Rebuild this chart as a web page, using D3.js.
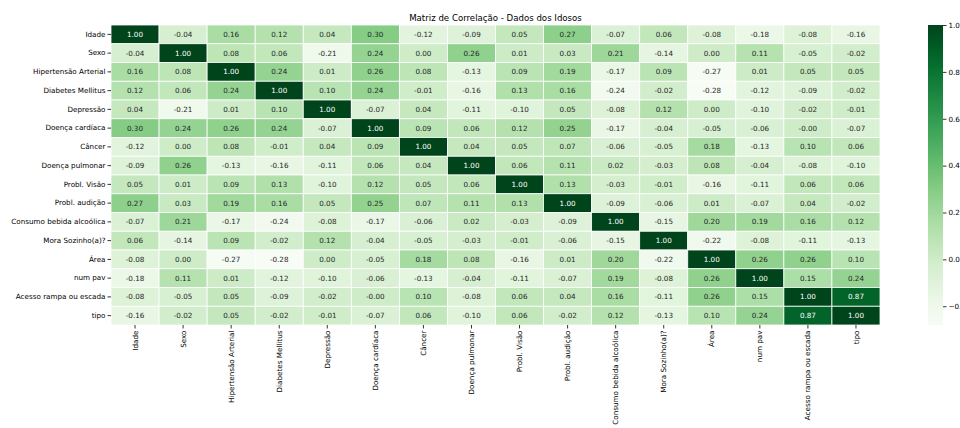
<!DOCTYPE html>
<html><head><meta charset="utf-8">
<script src="https://cdn.jsdelivr.net/npm/d3@7"></script>
<style>html,body{margin:0;padding:0;background:#fff;overflow:hidden}</style>
</head><body><svg id="chart" width="960" height="428"></svg>
<script>
const labels = ["Idade","Sexo","Hipertensão Arterial","Diabetes Mellitus","Depressão","Doença cardíaca","Câncer","Doença pulmonar","Probl. Visão","Probl. audição","Consumo bebida alcoólica","Mora Sozinho(a)?","Área","num pav","Acesso rampa ou escada","tipo"];
const rowIdade   = [1.00,-0.04,0.16,0.12,0.04,0.30,-0.12,-0.09,0.05,0.27,-0.07,0.06,-0.08,-0.18,-0.08,-0.16];
const rowSexo    = [-0.04,1.00,0.08,0.06,-0.21,0.24,0.00,0.26,0.01,0.03,0.21,-0.14,0.00,0.11,-0.05,-0.02];
const rowHip     = [0.16,0.08,1.00,0.24,0.01,0.26,0.08,-0.13,0.09,0.19,-0.17,0.09,-0.27,0.01,0.05,0.05];
const rowDiab    = [0.12,0.06,0.24,1.00,0.10,0.24,-0.01,-0.16,0.13,0.16,-0.24,-0.02,-0.28,-0.12,-0.09,-0.02];
const rowDep     = [0.04,-0.21,0.01,0.10,1.00,-0.07,0.04,-0.11,-0.10,0.05,-0.08,0.12,0.00,-0.10,-0.02,-0.01];
const rowCard    = [0.30,0.24,0.26,0.24,-0.07,1.00,0.09,0.06,0.12,0.25,-0.17,-0.04,-0.05,-0.06,-0.001,-0.07];
const rowCancer  = [-0.12,0.00,0.08,-0.01,0.04,0.09,1.00,0.04,0.05,0.07,-0.06,-0.05,0.18,-0.13,0.10,0.06];
const rowPulm    = [-0.09,0.26,-0.13,-0.16,-0.11,0.06,0.04,1.00,0.06,0.11,0.02,-0.03,0.08,-0.04,-0.08,-0.10];
const rowVisao   = [0.05,0.01,0.09,0.13,-0.10,0.12,0.05,0.06,1.00,0.13,-0.03,-0.01,-0.16,-0.11,0.06,0.06];
const rowAudicao = [0.27,0.03,0.19,0.16,0.05,0.25,0.07,0.11,0.13,1.00,-0.09,-0.06,0.01,-0.07,0.04,-0.02];
const rowConsumo = [-0.07,0.21,-0.17,-0.24,-0.08,-0.17,-0.06,0.02,-0.03,-0.09,1.00,-0.15,0.20,0.19,0.16,0.12];
const rowMora    = [0.06,-0.14,0.09,-0.02,0.12,-0.04,-0.05,-0.03,-0.01,-0.06,-0.15,1.00,-0.22,-0.08,-0.11,-0.13];
const rowArea    = [-0.08,0.00,-0.27,-0.28,0.00,-0.05,0.18,0.08,-0.16,0.01,0.20,-0.22,1.00,0.26,0.26,0.10];
const rowNumPav  = [-0.18,0.11,0.01,-0.12,-0.10,-0.06,-0.13,-0.04,-0.11,-0.07,0.19,-0.08,0.26,1.00,0.15,0.24];
const rowAcesso  = [-0.08,-0.05,0.05,-0.09,-0.02,-0.001,0.10,-0.08,0.06,0.04,0.16,-0.11,0.26,0.15,1.00,0.87];
const rowTipo    = [-0.16,-0.02,0.05,-0.02,-0.01,-0.07,0.06,-0.10,0.06,-0.02,0.12,-0.13,0.10,0.24,0.87,1.00];
const matrix = [rowIdade,rowSexo,rowHip,rowDiab,rowDep,rowCard,rowCancer,rowPulm,rowVisao,rowAudicao,rowConsumo,rowMora,rowArea,rowNumPav,rowAcesso,rowTipo];
const colorTicks = [-0.2,0.0,0.2,0.4,0.6,0.8,1.0];
const vmin = -0.28, vmax = 1.0;
const title = "Matriz de Correlação - Dados dos Idosos";

const svg = d3.select("#chart");
const font = "DejaVu Sans, sans-serif";
const L = 111, R = 880, T = 25, B = 325;
const x = d3.scaleBand().domain(labels).range([L, R]);
const y = d3.scaleBand().domain(labels).range([T, B]);
const color = d3.scaleSequential(d3.interpolateGreens).domain([vmin, vmax]);

const cells = [];
matrix.forEach((row, i) => row.forEach((v, j) => cells.push({r: labels[i], c: labels[j], v})));

function lum(c) {
  const rgb = d3.rgb(c);
  const f = u => { u /= 255; return u <= 0.03928 ? u / 12.92 : Math.pow((u + 0.055) / 1.055, 2.4); };
  return 0.2126 * f(rgb.r) + 0.7152 * f(rgb.g) + 0.0722 * f(rgb.b);
}

const g = svg.append("g");
g.selectAll("rect.cell").data(cells).join("rect")
  .attr("class", "cell")
  .attr("x", d => x(d.c)).attr("y", d => y(d.r))
  .attr("width", x.bandwidth()).attr("height", y.bandwidth())
  .attr("fill", d => color(d.v))
  .attr("stroke", "#fff").attr("stroke-width", 0.8);

g.selectAll("text.annot").data(cells).join("text")
  .attr("class", "annot")
  .attr("x", d => x(d.c) + x.bandwidth() / 2)
  .attr("y", d => y(d.r) + y.bandwidth() / 2)
  .attr("dy", "0.35em")
  .attr("text-anchor", "middle")
  .attr("font-family", font).attr("font-size", 7.2)
  .attr("fill", d => lum(color(d.v)) > 0.408 ? "#262626" : "#ffffff")
  .text(d => d.v.toFixed(2));

// Left axis
const yAxis = d3.axisLeft(y).tickSize(3.5).tickPadding(2);
const ya = svg.append("g").attr("transform", `translate(${L},0)`).call(yAxis);
ya.select(".domain").remove();
ya.selectAll("text").attr("font-family", font).attr("font-size", 7.2).attr("fill", "#000");
ya.selectAll("line").attr("stroke", "#000").attr("stroke-width", 0.8);

// Bottom axis
const xAxis = d3.axisBottom(x).tickSize(3.5).tickPadding(2);
const xa = svg.append("g").attr("transform", `translate(0,${B})`).call(xAxis);
xa.select(".domain").remove();
xa.selectAll("line").attr("stroke", "#000").attr("stroke-width", 0.8);
xa.selectAll("text")
  .attr("font-family", font).attr("font-size", 7.2).attr("fill", "#000")
  .attr("transform", "rotate(-90)")
  .attr("text-anchor", "end")
  .attr("x", -5.5).attr("y", 0).attr("dy", "0.35em");

// Title
svg.append("text").attr("x", (L + R) / 2).attr("y", 20.5)
  .attr("text-anchor", "middle").attr("font-family", font).attr("font-size", 8.6)
  .attr("fill", "#000").text(title);

// Colorbar
const cbX = 928, cbW = 15;
const cbScale = d3.scaleLinear().domain([vmin, vmax]).range([B, T]);
const defs = svg.append("defs");
const grad = defs.append("linearGradient").attr("id", "cbgrad")
  .attr("x1", 0).attr("y1", 1).attr("x2", 0).attr("y2", 0);
d3.range(0, 1.0001, 0.05).forEach(t => {
  grad.append("stop").attr("offset", t).attr("stop-color", color(vmin + t * (vmax - vmin)));
});
svg.append("rect").attr("x", cbX).attr("y", T).attr("width", cbW).attr("height", B - T)
  .attr("fill", "url(#cbgrad)");
const cbAxis = d3.axisRight(cbScale).tickValues(colorTicks).tickSize(3.5).tickPadding(2)
  .tickFormat(d3.format(".1f"));
const ca = svg.append("g").attr("transform", `translate(${cbX + cbW},0)`).call(cbAxis);
ca.select(".domain").remove();
ca.selectAll("line").attr("stroke", "#000").attr("stroke-width", 0.8);
ca.selectAll("text").attr("font-family", font).attr("font-size", 7.2).attr("fill", "#000");
</script></body></html>
